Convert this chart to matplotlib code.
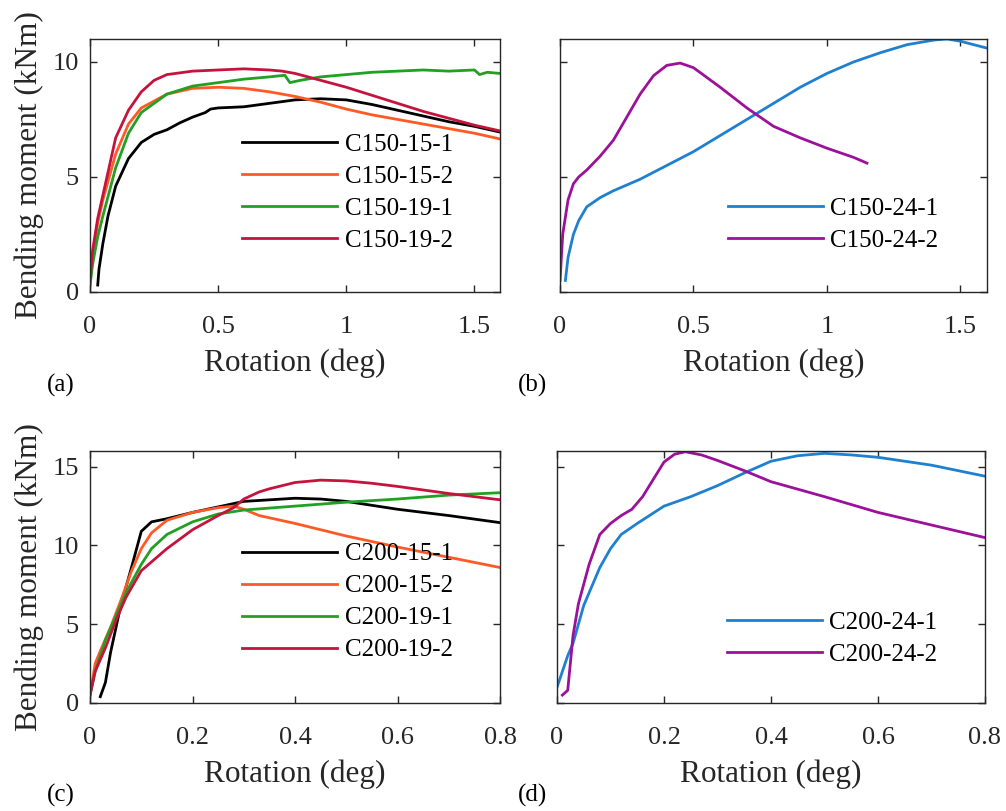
import matplotlib
matplotlib.use("Agg")
import matplotlib.pyplot as plt

plt.rcParams['font.family'] = ['Liberation Serif', 'DejaVu Serif']
plt.rcParams['mathtext.fontset'] = 'stix'

# colours of the six specimen groups
c_black = '#000000'
c_orange = '#FF5A26'
c_green = '#22A022'
c_crimson = '#C4143E'
c_blue = '#1F80D0'
c_purple = '#9C1199'

# ---- panel (a): C150 specimens, rotation (deg) vs bending moment (kNm)
c150_15_1_x = [0.03, 0.035, 0.05, 0.07, 0.1, 0.15, 0.2, 0.25, 0.3, 0.35, 0.38, 0.4, 0.45, 0.47, 0.5,
               0.6, 0.7, 0.8, 0.9, 1.0, 1.1, 1.2, 1.3, 1.4, 1.5, 1.6]
c150_15_1_y = [0.3, 1.0, 2.1, 3.3, 4.6, 5.8, 6.5, 6.85, 7.05, 7.35, 7.5, 7.6, 7.8, 7.95, 8.0,
               8.05, 8.2, 8.35, 8.4, 8.35, 8.15, 7.9, 7.65, 7.4, 7.2, 6.95]

c150_15_2_x = [0.0, 0.01, 0.03, 0.05, 0.1, 0.15, 0.2, 0.3, 0.4, 0.5, 0.6, 0.7, 0.8, 0.9, 1.0,
               1.1, 1.2, 1.3, 1.4, 1.5, 1.6]
c150_15_2_y = [0.3, 1.5, 3.0, 4.0, 6.0, 7.3, 8.0, 8.6, 8.85, 8.9, 8.85, 8.7, 8.5, 8.25, 7.95,
               7.7, 7.5, 7.3, 7.1, 6.9, 6.65]

c150_19_1_x = [0.0, 0.01, 0.03, 0.05, 0.1, 0.15, 0.2, 0.3, 0.4, 0.5, 0.6, 0.7, 0.76, 0.78, 0.82,
               0.9, 1.0, 1.1, 1.2, 1.3, 1.4, 1.5, 1.52, 1.55, 1.6]
c150_19_1_y = [0.3, 1.2, 2.4, 3.3, 5.4, 6.9, 7.8, 8.6, 8.95, 9.1, 9.25, 9.35, 9.42, 9.1, 9.2,
               9.35, 9.45, 9.55, 9.6, 9.65, 9.6, 9.65, 9.45, 9.55, 9.5]

c150_19_2_x = [0.0, 0.01, 0.03, 0.05, 0.1, 0.15, 0.2, 0.25, 0.3, 0.4, 0.5, 0.6, 0.7, 0.75, 0.8,
               0.9, 1.0, 1.1, 1.2, 1.3, 1.4, 1.5, 1.6]
c150_19_2_y = [0.5, 1.8, 3.2, 4.2, 6.7, 7.9, 8.7, 9.2, 9.45, 9.6, 9.65, 9.7, 9.65, 9.6, 9.5,
               9.2, 8.9, 8.55, 8.2, 7.85, 7.55, 7.25, 7.0]

# ---- panel (b)
c150_24_1_x = [0.02, 0.03, 0.05, 0.07, 0.1, 0.15, 0.2, 0.3, 0.4, 0.5, 0.6, 0.7, 0.8, 0.9, 1.0,
               1.1, 1.2, 1.3, 1.4, 1.45, 1.5, 1.6]
c150_24_1_y = [0.5, 1.5, 2.5, 3.1, 3.7, 4.1, 4.4, 4.9, 5.5, 6.1, 6.8, 7.5, 8.2, 8.9, 9.5,
               10.0, 10.4, 10.75, 10.95, 11.0, 10.9, 10.6]

c150_24_2_x = [0.0, 0.01, 0.03, 0.05, 0.07, 0.1, 0.15, 0.2, 0.25, 0.3, 0.35, 0.4, 0.45, 0.5,
               0.6, 0.7, 0.8, 0.9, 1.0, 1.1, 1.15]
c150_24_2_y = [0.5, 2.5, 4.0, 4.7, 5.0, 5.3, 5.9, 6.6, 7.6, 8.6, 9.4, 9.85, 9.95, 9.75,
               8.9, 8.0, 7.2, 6.7, 6.25, 5.85, 5.6]

# ---- panel (c): C200 specimens
c200_15_1_x = [0.02, 0.03, 0.04, 0.06, 0.08, 0.1, 0.12, 0.15, 0.2, 0.25, 0.3, 0.35, 0.4, 0.45,
               0.5, 0.55, 0.6, 0.7, 0.8]
c200_15_1_y = [0.4, 1.3, 3.2, 6.2, 8.5, 10.9, 11.5, 11.7, 12.1, 12.45, 12.8, 12.9, 13.0, 12.95,
               12.8, 12.55, 12.3, 11.9, 11.45]

c200_15_2_x = [0.0, 0.01, 0.02, 0.04, 0.06, 0.08, 0.1, 0.12, 0.15, 0.2, 0.25, 0.28, 0.3, 0.33,
               0.4, 0.5, 0.6, 0.7, 0.8]
c200_15_2_y = [0.5, 2.5, 3.3, 4.8, 6.5, 8.3, 9.8, 10.8, 11.6, 12.1, 12.4, 12.5, 12.3, 11.9,
               11.4, 10.6, 9.9, 9.25, 8.6]

c200_19_1_x = [0.0, 0.01, 0.03, 0.05, 0.07, 0.1, 0.12, 0.15, 0.2, 0.25, 0.3, 0.4, 0.5, 0.6,
               0.7, 0.8]
c200_19_1_y = [0.5, 2.0, 4.0, 5.5, 7.0, 8.8, 9.8, 10.7, 11.5, 12.0, 12.25, 12.5, 12.75, 12.95,
               13.2, 13.35]

c200_19_2_x = [0.0, 0.01, 0.03, 0.05, 0.07, 0.1, 0.15, 0.2, 0.25, 0.28, 0.3, 0.33, 0.35, 0.4,
               0.45, 0.5, 0.55, 0.6, 0.7, 0.8]
c200_19_2_y = [0.5, 2.0, 3.5, 5.2, 6.7, 8.4, 9.8, 11.0, 11.9, 12.4, 12.95, 13.4, 13.6, 14.0,
               14.15, 14.1, 13.95, 13.75, 13.3, 12.9]

# ---- panel (d)
c200_24_1_x = [0.0, 0.005, 0.02, 0.03, 0.05, 0.08, 0.1, 0.12, 0.15, 0.2, 0.25, 0.3, 0.35, 0.4,
               0.45, 0.5, 0.55, 0.6, 0.7, 0.8]
c200_24_1_y = [1.0, 1.5, 3.0, 3.8, 6.2, 8.6, 9.8, 10.7, 11.4, 12.5, 13.1, 13.8, 14.6, 15.35,
               15.7, 15.85, 15.75, 15.6, 15.1, 14.4]

c200_24_2_x = [0.01, 0.02, 0.03, 0.04, 0.06, 0.08, 0.1, 0.12, 0.14, 0.16, 0.18, 0.2, 0.22,
               0.24, 0.27, 0.3, 0.35, 0.4, 0.5, 0.6, 0.7, 0.8]
c200_24_2_y = [0.5, 0.8, 4.3, 6.3, 8.8, 10.7, 11.4, 11.9, 12.3, 13.1, 14.2, 15.3, 15.8,
               15.95, 15.75, 15.4, 14.75, 14.05, 13.1, 12.1, 11.3, 10.5]

fig = plt.figure(figsize=(10.06, 8.11), dpi=100)

axa = fig.add_axes([0.0895, 0.640, 0.4076, 0.312])
axb = fig.add_axes([0.5567, 0.640, 0.4245, 0.312])
axc = fig.add_axes([0.0895, 0.1332, 0.4076, 0.3107])
axd = fig.add_axes([0.5537, 0.1332, 0.4254, 0.3107])

lw = 2.0

axa.plot(c150_15_1_x, c150_15_1_y, color=c_black, lw=lw, label='C150-15-1')
axa.plot(c150_15_2_x, c150_15_2_y, color=c_orange, lw=lw, label='C150-15-2')
axa.plot(c150_19_1_x, c150_19_1_y, color=c_green, lw=lw, label='C150-19-1')
axa.plot(c150_19_2_x, c150_19_2_y, color=c_crimson, lw=lw, label='C150-19-2')

axb.plot(c150_24_1_x, c150_24_1_y, color=c_blue, lw=lw, label='C150-24-1')
axb.plot(c150_24_2_x, c150_24_2_y, color=c_purple, lw=lw, label='C150-24-2')

axc.plot(c200_15_1_x, c200_15_1_y, color=c_black, lw=lw, label='C200-15-1')
axc.plot(c200_15_2_x, c200_15_2_y, color=c_orange, lw=lw, label='C200-15-2')
axc.plot(c200_19_1_x, c200_19_1_y, color=c_green, lw=lw, label='C200-19-1')
axc.plot(c200_19_2_x, c200_19_2_y, color=c_crimson, lw=lw, label='C200-19-2')

axd.plot(c200_24_1_x, c200_24_1_y, color=c_blue, lw=lw, label='C200-24-1')
axd.plot(c200_24_2_x, c200_24_2_y, color=c_purple, lw=lw, label='C200-24-2')

for ax in (axa, axb):
    ax.set_xlim(0, 1.6)
    ax.set_ylim(0, 11)
    ax.set_xticks([0, 0.5, 1, 1.5])
    ax.set_xticklabels(['0', '0.5', '1', '1.5'])
    ax.set_yticks([0, 5, 10])
for ax in (axc, axd):
    ax.set_xlim(0, 0.8)
    ax.set_ylim(0, 16)
    ax.set_xticks([0, 0.2, 0.4, 0.6, 0.8])
    ax.set_xticklabels(['0', '0.2', '0.4', '0.6', '0.8'])
    ax.set_yticks([0, 5, 10, 15])

for ax in (axa, axb, axc, axd):
    ax.tick_params(direction='in', top=True, right=True, length=5, width=1,
                   color='#262626', labelsize=19, labelcolor='#262626')
    ax.tick_params(axis='x', pad=17)
    ax.tick_params(axis='y', pad=8)
    for s in ax.spines.values():
        s.set_color('#262626')
        s.set_linewidth(1.0)
    ax.set_xlabel('Rotation (deg)', fontsize=22.5, color='#262626', labelpad=8)

for ax in (axb, axd):
    ax.set_yticklabels([])

for ax in (axa, axc):
    ax.set_ylabel('Bending moment (kNm)', fontsize=22.5, color='#262626', labelpad=6)

leg_kw = dict(frameon=False, loc='upper left', fontsize=18, handlelength=3.8,
              handletextpad=0.3, labelspacing=0.38, borderpad=0, borderaxespad=0)
axa.legend(bbox_to_anchor=(0.371, 0.628), **leg_kw)
axb.legend(bbox_to_anchor=(0.393, 0.375), **leg_kw)
axc.legend(bbox_to_anchor=(0.371, 0.635), **leg_kw)
axd.legend(bbox_to_anchor=(0.397, 0.365), **leg_kw)

fig.text(47 / 1006, 1 - 385 / 811, '(a)', fontsize=18, va='center', ha='left')
fig.text(518 / 1006, 1 - 385 / 811, '(b)', fontsize=18, va='center', ha='left')
fig.text(47 / 1006, 1 - 795 / 811, '(c)', fontsize=18, va='center', ha='left')
fig.text(518 / 1006, 1 - 795 / 811, '(d)', fontsize=18, va='center', ha='left')

fig.savefig('out.png', dpi=100)
